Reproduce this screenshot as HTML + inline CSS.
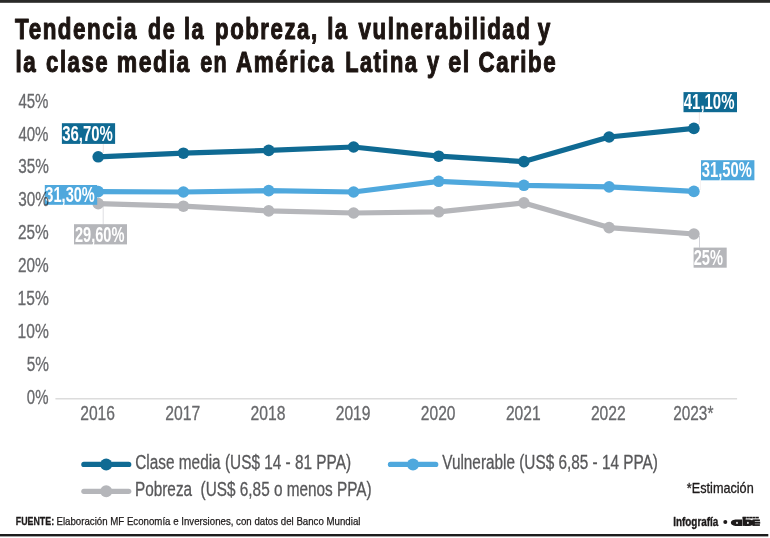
<!DOCTYPE html>
<html><head><meta charset="utf-8"><title>Tendencia de la pobreza</title>
<style>
html,body{margin:0;padding:0;background:#fff;}
body{width:770px;height:538px;overflow:hidden;font-family:"Liberation Sans",sans-serif;}
svg{display:block;will-change:transform;font-family:"Liberation Sans",sans-serif;}
</style></head><body>
<svg width="770" height="538" viewBox="0 0 770 538">
<rect x="0" y="0" width="770" height="538" fill="#ffffff"/>
<rect x="0" y="0" width="770" height="2.8" fill="#2a2a28"/>
<rect x="0" y="534.0" width="768.3" height="2.4" fill="#1c1c1c"/>
<text x="15.11" y="39.4" font-size="29.1" font-weight="bold" fill="#1d1512" stroke="#1d1512" stroke-width="1.1" stroke-linejoin="round" letter-spacing="2.0" textLength="122.93" lengthAdjust="spacingAndGlyphs">Tendencia</text>
<text x="148.09" y="39.4" font-size="29.1" font-weight="bold" fill="#1d1512" stroke="#1d1512" stroke-width="1.1" stroke-linejoin="round" letter-spacing="2.0" textLength="28.00" lengthAdjust="spacingAndGlyphs">de</text>
<text x="184.11" y="39.4" font-size="29.1" font-weight="bold" fill="#1d1512" stroke="#1d1512" stroke-width="1.1" stroke-linejoin="round" letter-spacing="2.0" textLength="21.05" lengthAdjust="spacingAndGlyphs">la</text>
<text x="215.04" y="39.4" font-size="29.1" font-weight="bold" fill="#1d1512" stroke="#1d1512" stroke-width="1.1" stroke-linejoin="round" letter-spacing="2.0" textLength="103.62" lengthAdjust="spacingAndGlyphs">pobreza,</text>
<text x="327.17" y="39.4" font-size="29.1" font-weight="bold" fill="#1d1512" stroke="#1d1512" stroke-width="1.1" stroke-linejoin="round" letter-spacing="2.0" textLength="21.48" lengthAdjust="spacingAndGlyphs">la</text>
<text x="358.58" y="39.4" font-size="29.1" font-weight="bold" fill="#1d1512" stroke="#1d1512" stroke-width="1.1" stroke-linejoin="round" letter-spacing="2.0" textLength="172.87" lengthAdjust="spacingAndGlyphs">vulnerabilidad</text>
<text x="537.71" y="39.4" font-size="29.1" font-weight="bold" fill="#1d1512" stroke="#1d1512" stroke-width="1.1" stroke-linejoin="round" letter-spacing="2.0" textLength="14.12" lengthAdjust="spacingAndGlyphs">y</text>
<text x="15.43" y="72.3" font-size="29.1" font-weight="bold" fill="#1d1512" stroke="#1d1512" stroke-width="1.1" stroke-linejoin="round" letter-spacing="2.0" textLength="21.74" lengthAdjust="spacingAndGlyphs">la</text>
<text x="46.07" y="72.3" font-size="29.1" font-weight="bold" fill="#1d1512" stroke="#1d1512" stroke-width="1.1" stroke-linejoin="round" letter-spacing="2.0" textLength="63.05" lengthAdjust="spacingAndGlyphs">clase</text>
<text x="116.82" y="72.3" font-size="29.1" font-weight="bold" fill="#1d1512" stroke="#1d1512" stroke-width="1.1" stroke-linejoin="round" letter-spacing="2.0" textLength="74.14" lengthAdjust="spacingAndGlyphs">media</text>
<text x="200.15" y="72.3" font-size="29.1" font-weight="bold" fill="#1d1512" stroke="#1d1512" stroke-width="1.1" stroke-linejoin="round" letter-spacing="2.0" textLength="28.05" lengthAdjust="spacingAndGlyphs">en</text>
<text x="235.92" y="72.3" font-size="29.1" font-weight="bold" fill="#1d1512" stroke="#1d1512" stroke-width="1.1" stroke-linejoin="round" letter-spacing="2.0" textLength="99.37" lengthAdjust="spacingAndGlyphs">América</text>
<text x="345.16" y="72.3" font-size="29.1" font-weight="bold" fill="#1d1512" stroke="#1d1512" stroke-width="1.1" stroke-linejoin="round" letter-spacing="2.0" textLength="73.21" lengthAdjust="spacingAndGlyphs">Latina</text>
<text x="426.88" y="72.3" font-size="29.1" font-weight="bold" fill="#1d1512" stroke="#1d1512" stroke-width="1.1" stroke-linejoin="round" letter-spacing="2.0" textLength="13.68" lengthAdjust="spacingAndGlyphs">y</text>
<text x="448.13" y="72.3" font-size="29.1" font-weight="bold" fill="#1d1512" stroke="#1d1512" stroke-width="1.1" stroke-linejoin="round" letter-spacing="2.0" textLength="22.72" lengthAdjust="spacingAndGlyphs">el</text>
<text x="478.51" y="72.3" font-size="29.1" font-weight="bold" fill="#1d1512" stroke="#1d1512" stroke-width="1.1" stroke-linejoin="round" letter-spacing="2.0" textLength="78.60" lengthAdjust="spacingAndGlyphs">Caribe</text>
<text x="18.39" y="107.6" font-size="19.4" fill="#68696c" stroke="#68696c" stroke-width="0.3" stroke-linejoin="round" textLength="30.11" lengthAdjust="spacingAndGlyphs">45%</text>
<text x="18.39" y="140.5" font-size="19.4" fill="#68696c" stroke="#68696c" stroke-width="0.3" stroke-linejoin="round" textLength="30.11" lengthAdjust="spacingAndGlyphs">40%</text>
<text x="18.15" y="173.39999999999998" font-size="19.4" fill="#68696c" stroke="#68696c" stroke-width="0.3" stroke-linejoin="round" textLength="30.60" lengthAdjust="spacingAndGlyphs">35%</text>
<text x="17.98" y="239.2" font-size="19.4" fill="#68696c" stroke="#68696c" stroke-width="0.3" stroke-linejoin="round" textLength="30.74" lengthAdjust="spacingAndGlyphs">25%</text>
<text x="17.98" y="272.1" font-size="19.4" fill="#68696c" stroke="#68696c" stroke-width="0.3" stroke-linejoin="round" textLength="30.74" lengthAdjust="spacingAndGlyphs">20%</text>
<text x="17.58" y="305.0" font-size="19.4" fill="#68696c" stroke="#68696c" stroke-width="0.3" stroke-linejoin="round" textLength="31.15" lengthAdjust="spacingAndGlyphs">15%</text>
<text x="17.58" y="337.9" font-size="19.4" fill="#68696c" stroke="#68696c" stroke-width="0.3" stroke-linejoin="round" textLength="31.15" lengthAdjust="spacingAndGlyphs">10%</text>
<text x="26.63" y="370.79999999999995" font-size="19.4" fill="#68696c" stroke="#68696c" stroke-width="0.3" stroke-linejoin="round" textLength="22.19" lengthAdjust="spacingAndGlyphs">5%</text>
<text x="26.84" y="403.69999999999993" font-size="19.4" fill="#68696c" stroke="#68696c" stroke-width="0.3" stroke-linejoin="round" textLength="21.61" lengthAdjust="spacingAndGlyphs">0%</text>
<text x="80.27" y="420" font-size="19.4" fill="#68696c" stroke="#68696c" stroke-width="0.3" stroke-linejoin="round" textLength="34.70" lengthAdjust="spacingAndGlyphs">2016</text>
<text x="165.24" y="420" font-size="19.4" fill="#68696c" stroke="#68696c" stroke-width="0.3" stroke-linejoin="round" textLength="34.95" lengthAdjust="spacingAndGlyphs">2017</text>
<text x="250.55" y="420" font-size="19.4" fill="#68696c" stroke="#68696c" stroke-width="0.3" stroke-linejoin="round" textLength="34.93" lengthAdjust="spacingAndGlyphs">2018</text>
<text x="335.68" y="420" font-size="19.4" fill="#68696c" stroke="#68696c" stroke-width="0.3" stroke-linejoin="round" textLength="34.82" lengthAdjust="spacingAndGlyphs">2019</text>
<text x="420.87" y="420" font-size="19.4" fill="#68696c" stroke="#68696c" stroke-width="0.3" stroke-linejoin="round" textLength="34.57" lengthAdjust="spacingAndGlyphs">2020</text>
<text x="505.93" y="420" font-size="19.4" fill="#68696c" stroke="#68696c" stroke-width="0.3" stroke-linejoin="round" textLength="34.76" lengthAdjust="spacingAndGlyphs">2021</text>
<text x="590.92" y="420" font-size="19.4" fill="#68696c" stroke="#68696c" stroke-width="0.3" stroke-linejoin="round" textLength="34.81" lengthAdjust="spacingAndGlyphs">2022</text>
<text x="673.22" y="420" font-size="19.4" fill="#68696c" stroke="#68696c" stroke-width="0.3" stroke-linejoin="round" textLength="40.18" lengthAdjust="spacingAndGlyphs">2023*</text>
<line x1="55.4" y1="398.7" x2="737.1" y2="398.7" stroke="#dcdcdc" stroke-width="1.5"/>
<line x1="103.3" y1="144" x2="103.3" y2="153" stroke="#e2d6d8" stroke-width="0.7"/>
<line x1="103.2" y1="205" x2="103.2" y2="224.5" stroke="#d6d6da" stroke-width="0.8"/>
<line x1="699.4" y1="112" x2="699.4" y2="124" stroke="#e6dcdc" stroke-width="0.7"/>
<line x1="700.5" y1="180" x2="700.5" y2="190" stroke="#f0ecec" stroke-width="0.7"/>
<line x1="699.5" y1="236" x2="699.5" y2="247.7" stroke="#c8c9d0" stroke-width="0.8"/>
<polyline points="98.2,203.6 183.4,206.2 268.7,210.9 353.6,213.0 438.7,211.8 523.9,202.9 609.1,227.6 693.9,234.0" fill="none" stroke="#b5b6ba" stroke-width="5.2" stroke-linejoin="round" stroke-linecap="round"/>
<circle cx="98.2" cy="203.6" r="5.8" fill="#b5b6ba"/>
<circle cx="183.4" cy="206.2" r="5.8" fill="#b5b6ba"/>
<circle cx="268.7" cy="210.9" r="5.8" fill="#b5b6ba"/>
<circle cx="353.6" cy="213.0" r="5.8" fill="#b5b6ba"/>
<circle cx="438.7" cy="211.8" r="5.8" fill="#b5b6ba"/>
<circle cx="523.9" cy="202.9" r="5.8" fill="#b5b6ba"/>
<circle cx="609.1" cy="227.6" r="5.8" fill="#b5b6ba"/>
<circle cx="693.9" cy="234.0" r="5.8" fill="#b5b6ba"/>
<polyline points="98.2,191.6 183.4,192.0 268.7,190.6 353.6,192.0 438.7,181.3 523.9,185.3 609.1,186.9 693.9,191.4" fill="none" stroke="#4fa8dd" stroke-width="5.2" stroke-linejoin="round" stroke-linecap="round"/>
<circle cx="98.2" cy="191.6" r="5.8" fill="#4fa8dd"/>
<circle cx="183.4" cy="192.0" r="5.8" fill="#4fa8dd"/>
<circle cx="268.7" cy="190.6" r="5.8" fill="#4fa8dd"/>
<circle cx="353.6" cy="192.0" r="5.8" fill="#4fa8dd"/>
<circle cx="438.7" cy="181.3" r="5.8" fill="#4fa8dd"/>
<circle cx="523.9" cy="185.3" r="5.8" fill="#4fa8dd"/>
<circle cx="609.1" cy="186.9" r="5.8" fill="#4fa8dd"/>
<circle cx="693.9" cy="191.4" r="5.8" fill="#4fa8dd"/>
<polyline points="98.2,156.8 183.4,153.2 268.7,150.4 353.6,147.0 438.7,156.2 523.9,161.6 609.1,137.0 693.9,128.4" fill="none" stroke="#0f6a93" stroke-width="5.2" stroke-linejoin="round" stroke-linecap="round"/>
<circle cx="98.2" cy="156.8" r="5.8" fill="#0f6a93"/>
<circle cx="183.4" cy="153.2" r="5.8" fill="#0f6a93"/>
<circle cx="268.7" cy="150.4" r="5.8" fill="#0f6a93"/>
<circle cx="353.6" cy="147.0" r="5.8" fill="#0f6a93"/>
<circle cx="438.7" cy="156.2" r="5.8" fill="#0f6a93"/>
<circle cx="523.9" cy="161.6" r="5.8" fill="#0f6a93"/>
<circle cx="609.1" cy="137.0" r="5.8" fill="#0f6a93"/>
<circle cx="693.9" cy="128.4" r="5.8" fill="#0f6a93"/>
<rect x="61.9" y="123.2" width="53.2" height="20.7" fill="#0f6a93"/>
<text x="62.14" y="140.8" font-size="21.7" font-weight="bold" fill="#ffffff" textLength="50.65" lengthAdjust="spacingAndGlyphs">36,70%</text>
<rect x="44.8" y="185.0" width="52.4" height="19.8" fill="#4fa8dd"/>
<text x="45.35" y="202.0" font-size="21.7" font-weight="bold" fill="#ffffff" textLength="49.50" lengthAdjust="spacingAndGlyphs">31,30%</text>
<rect x="74.0" y="224.2" width="53.0" height="20.2" fill="#b5b6ba"/>
<text x="74.92" y="241.7" font-size="21.7" font-weight="bold" fill="#ffffff" textLength="49.57" lengthAdjust="spacingAndGlyphs">29,60%</text>
<text style="mix-blend-mode:multiply" x="18.15" y="206.29999999999998" font-size="19.4" fill="#68696c" stroke="#68696c" stroke-width="0.3" stroke-linejoin="round" textLength="30.60" lengthAdjust="spacingAndGlyphs">30%</text>
<rect x="683.5" y="92.1" width="53.5" height="20.1" fill="#0f6a93"/>
<text x="683.75" y="109.4" font-size="21.7" font-weight="bold" fill="#ffffff" textLength="50.74" lengthAdjust="spacingAndGlyphs">41,10%</text>
<rect x="701" y="160.2" width="53.4" height="20.1" fill="#4fa8dd"/>
<text x="701.82" y="176.8" font-size="21.7" font-weight="bold" fill="#ffffff" textLength="50.16" lengthAdjust="spacingAndGlyphs">31,50%</text>
<rect x="693.6" y="247.6" width="33.1" height="20.1" fill="#b5b6ba"/>
<text x="693.67" y="265.3" font-size="21.7" font-weight="bold" fill="#ffffff" textLength="29.31" lengthAdjust="spacingAndGlyphs">25%</text>
<line x1="83.9" y1="464.4" x2="128.7" y2="464.4" stroke="#0f6a93" stroke-width="5.3" stroke-linecap="round"/>
<circle cx="106.2" cy="464.4" r="6.0" fill="#0f6a93"/>
<line x1="83.9" y1="491.3" x2="128.7" y2="491.3" stroke="#b5b6ba" stroke-width="5.3" stroke-linecap="round"/>
<circle cx="106.2" cy="491.3" r="6.0" fill="#b5b6ba"/>
<line x1="390.5" y1="464.4" x2="435.7" y2="464.4" stroke="#4fa8dd" stroke-width="5.3" stroke-linecap="round"/>
<circle cx="413.0" cy="464.4" r="6.0" fill="#4fa8dd"/>
<text x="135.25" y="468.9" font-size="19.4" fill="#58585a" stroke="#58585a" stroke-width="0.3" stroke-linejoin="round" textLength="215.79" lengthAdjust="spacingAndGlyphs">Clase media (US$ 14 - 81 PPA)</text>
<text x="134.98" y="496.4" font-size="19.4" fill="#58585a" stroke="#58585a" stroke-width="0.3" stroke-linejoin="round" textLength="236.69" lengthAdjust="spacingAndGlyphs">Pobreza&#160; (US$ 6,85 o menos PPA)</text>
<text x="442.23" y="469.1" font-size="19.4" fill="#58585a" stroke="#58585a" stroke-width="0.3" stroke-linejoin="round" textLength="215.72" lengthAdjust="spacingAndGlyphs">Vulnerable (US$ 6,85 - 14 PPA)</text>
<text x="686.87" y="493.2" font-size="14.3" fill="#1d1a1a" stroke="#1d1a1a" stroke-width="0.3" stroke-linejoin="round" textLength="66.83" lengthAdjust="spacingAndGlyphs">*Estimación</text>
<text x="15.79" y="524.8" font-size="11.3" font-weight="bold" fill="#1d1a1a" stroke="#1d1a1a" stroke-width="0.3" stroke-linejoin="round" textLength="38.30" lengthAdjust="spacingAndGlyphs">FUENTE:</text>
<text x="56.46" y="524.8" font-size="11.3" fill="#1d1a1a" stroke="#1d1a1a" stroke-width="0.25" stroke-linejoin="round" textLength="303.96" lengthAdjust="spacingAndGlyphs">Elaboración MF Economía e Inversiones, con datos del Banco Mundial</text>
<text x="673.20" y="526.2" font-size="12.4" font-weight="bold" fill="#1d1a1a" stroke="#1d1a1a" stroke-width="0.35" stroke-linejoin="round" textLength="45.15" lengthAdjust="spacingAndGlyphs">Infografía</text>
<circle cx="725.3" cy="521.9" r="2" fill="#1d1a1a"/>
<g fill="#1d1a1a">
<path d="M730.9 522.7 C730.9 520.7 733.4 519.5 736.6 519.5 L742.2 519.5 L742.2 525.9 L736.6 525.9 C733.4 525.9 730.9 524.7 730.9 522.7 Z"/>
<rect x="742.6" y="516.9" width="3.0" height="9"/>
<path d="M745 519.5 L749 519.5 C751.8 519.5 753.4 520.8 753.4 522.7 C753.4 524.6 751.8 525.9 749 525.9 L745 525.9 Z"/>
<rect x="742.6" y="516.8" width="3.4" height="1.7"/>
<rect x="746.3" y="516.8" width="2.6" height="1.6"/>
<rect x="749.2" y="516.8" width="2.8" height="1.6"/>
<rect x="752.3" y="516.8" width="2.8" height="1.6"/>
<rect x="755.4" y="516.8" width="3.4" height="1.6"/>
<rect x="752.6" y="519.4" width="7.3" height="1.8"/>
<rect x="752.6" y="521.8" width="7.6" height="1.9"/>
<rect x="752.6" y="524.2" width="7.3" height="1.7"/>
<rect x="752.2" y="520.0" width="2.6" height="5.4"/>
</g>
<g fill="#ffffff">
<ellipse cx="737.0" cy="522.9" rx="0.85" ry="1.05"/>
<ellipse cx="747.9" cy="522.9" rx="0.85" ry="1.05"/>
</g>
</svg>
</body></html>
